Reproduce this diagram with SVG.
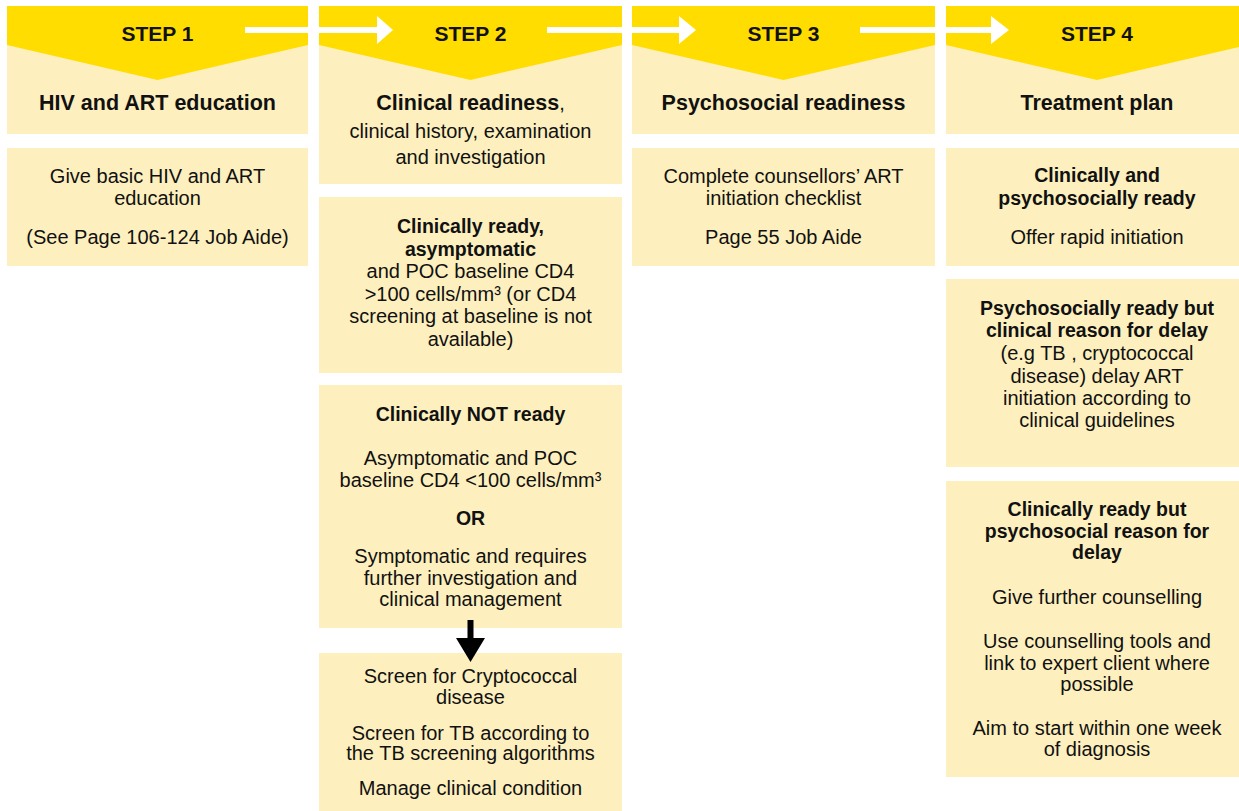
<svg xmlns="http://www.w3.org/2000/svg" width="1239" height="811" viewBox="0 0 1239 811">
<style>
.box{fill:#FDF0BE}
.hdr{fill:#FFDD00}
text{font-family:"Liberation Sans",Arial,sans-serif;fill:#111;text-anchor:middle}
.step{font-size:21px;font-weight:bold}
.title{font-size:21.5px;font-weight:bold}
.t{font-size:20px}
.b{font-size:19.5px;font-weight:bold}
</style>
<rect width="1239" height="811" fill="#fff"/>

<g id="step1">
<rect class="box" x="7" y="6" width="301" height="128"/>
<polygon class="hdr" points="7,6 308,6 308,45 157.5,80 7,45"/>
<text class="step" x="157.5" y="41">STEP 1</text>
<text class="title" x="157.5" y="110">HIV and ART education</text>
</g>
<g id="step1-box">
<rect class="box" x="7" y="148" width="301" height="118"/>
<text class="t" x="157.5" y="183">Give basic HIV and ART</text>
<text class="t" x="157.5" y="205">education</text>
<text class="t" x="157.5" y="244">(See Page 106-124 Job Aide)</text>
</g>

<g id="step2">
<rect class="box" x="319" y="6" width="303" height="178"/>
<polygon class="hdr" points="319,6 622,6 622,45 470.5,80 319,45"/>
<text class="step" x="470.5" y="41">STEP 2</text>
<text x="470.5" y="110"><tspan class="title">Clinical readiness</tspan><tspan class="t">,</tspan></text>
<text class="t" x="470.5" y="138">clinical history, examination</text>
<text class="t" x="470.5" y="164">and investigation</text>
</g>
<g id="step2-ready">
<rect class="box" x="319" y="197" width="303" height="176"/>
<text class="b" x="470.5" y="233">Clinically ready,</text>
<text class="b" x="470.5" y="255.5">asymptomatic</text>
<text class="t" x="470.5" y="278">and POC baseline CD4</text>
<text class="t" x="470.5" y="300.5">&gt;100 cells/mm³ (or CD4</text>
<text class="t" x="470.5" y="323">screening at baseline is not</text>
<text class="t" x="470.5" y="345.5">available)</text>
</g>
<g id="step2-notready">
<rect class="box" x="319" y="385" width="303" height="243"/>
<text class="b" x="470.5" y="420.5">Clinically NOT ready</text>
<text class="t" x="470.5" y="465">Asymptomatic and POC</text>
<text class="t" x="470.5" y="487">baseline CD4 &lt;100 cells/mm³</text>
<text class="b" x="470.5" y="525">OR</text>
<text class="t" x="470.5" y="563">Symptomatic and requires</text>
<text class="t" x="470.5" y="585">further investigation and</text>
<text class="t" x="470.5" y="606">clinical management</text>
</g>
<g id="step2-screen">
<rect class="box" x="319" y="653" width="303" height="158"/>
<text class="t" x="470.5" y="683">Screen for Cryptococcal</text>
<text class="t" x="470.5" y="704">disease</text>
<text class="t" x="470.5" y="740">Screen for TB according to</text>
<text class="t" x="470.5" y="760">the TB screening algorithms</text>
<text class="t" x="470.5" y="795">Manage clinical condition</text>
</g>

<g id="step3">
<rect class="box" x="632" y="6" width="303" height="128"/>
<polygon class="hdr" points="632,6 935,6 935,45 783.5,80 632,45"/>
<text class="step" x="783.5" y="41">STEP 3</text>
<text class="title" x="783.5" y="110">Psychosocial readiness</text>
</g>
<g id="step3-box">
<rect class="box" x="632" y="148" width="303" height="118"/>
<text class="t" x="783.5" y="183">Complete counsellors’ ART</text>
<text class="t" x="783.5" y="205">initiation checklist</text>
<text class="t" x="783.5" y="244">Page 55 Job Aide</text>
</g>

<g id="step4">
<rect class="box" x="946" y="6" width="302" height="128"/>
<polygon class="hdr" points="946,6 1248,6 1248,45 1097,80 946,45"/>
<text class="step" x="1097" y="41">STEP 4</text>
<text class="title" x="1097" y="110">Treatment plan</text>
</g>
<g id="step4-ready">
<rect class="box" x="946" y="148" width="302" height="118"/>
<text class="b" x="1097" y="182">Clinically and</text>
<text class="b" x="1097" y="204.5">psychosocially ready</text>
<text class="t" x="1097" y="244">Offer rapid initiation</text>
</g>
<g id="step4-clinicaldelay">
<rect class="box" x="946" y="279" width="302" height="188"/>
<text class="b" x="1097" y="315">Psychosocially ready but</text>
<text class="b" x="1097" y="337">clinical reason for delay</text>
<text class="t" x="1097" y="360">(e.g TB , cryptococcal</text>
<text class="t" x="1097" y="383">disease) delay ART</text>
<text class="t" x="1097" y="405">initiation according to</text>
<text class="t" x="1097" y="427">clinical guidelines</text>
</g>
<g id="step4-psychdelay">
<rect class="box" x="946" y="481" width="302" height="296"/>
<text class="b" x="1097" y="516">Clinically ready but</text>
<text class="b" x="1097" y="538">psychosocial reason for</text>
<text class="b" x="1097" y="559">delay</text>
<text class="t" x="1097" y="604">Give further counselling</text>
<text class="t" x="1097" y="648">Use counselling tools and</text>
<text class="t" x="1097" y="670">link to expert client where</text>
<text class="t" x="1097" y="691">possible</text>
<text class="t" x="1097" y="735">Aim to start within one week</text>
<text class="t" x="1097" y="756">of diagnosis</text>
</g>

<g id="connectors">
<g fill="#fff">
<rect x="245" y="27" width="134" height="6"/>
<polygon points="377,16 393,30 377,44"/>
<rect x="547" y="27" width="134" height="6"/>
<polygon points="679,16 696,30 679,44"/>
<rect x="860" y="27" width="133" height="6"/>
<polygon points="991,16 1009,30 991,44"/>
</g>
<g fill="#000">
<rect x="467.5" y="620" width="6" height="20"/>
<polygon points="456,638 485,638 470.5,662"/>
</g>
</g>
</svg>
